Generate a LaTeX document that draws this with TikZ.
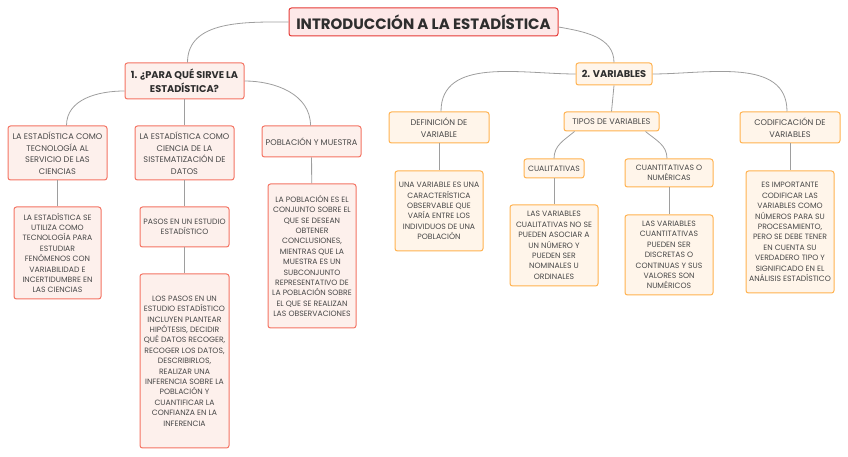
\documentclass[tikz,border=0pt]{standalone}
\usepackage{fontspec}
\setmainfont{Poppins}
\definecolor{rootline}{HTML}{E53935}
\definecolor{rootfill}{HTML}{FDE8E8}
\definecolor{redline}{HTML}{F47362}
\definecolor{redfill}{HTML}{FDF0EC}
\definecolor{orline}{HTML}{FFB24F}
\definecolor{orfill}{HTML}{FFF5EA}
\definecolor{linkgray}{HTML}{9E9E9E}
\definecolor{ink}{HTML}{2E2E2E}
\definecolor{softink}{HTML}{484848}
\tikzset{
  box/.style={draw, rounded corners=2.5pt, line width=1pt, align=center, inner sep=0pt},
  rootbox/.style={box, draw=rootline, fill=rootfill, text=ink, font=\fontsize{15}{17}\selectfont\bfseries},
  redmain/.style={box, draw=redline, fill=redfill, text=ink, font=\fontsize{9.8}{14.3}\selectfont\bfseries},
  ormain/.style={box, draw=orline, fill=orfill, text=ink, font=\fontsize{9.8}{14.3}\selectfont\bfseries},
  redtopic/.style={box, draw=redline, fill=redfill, text=softink, font=\fontsize{8.2}{11.5}\selectfont},
  ortopic/.style={box, draw=orline, fill=orfill, text=softink, font=\fontsize{8.2}{11.5}\selectfont},
  redleaf/.style={box, draw=redline, fill=redfill, text=softink, font=\fontsize{7.7}{10.4}\selectfont},
  orleaf/.style={box, draw=orline, fill=orfill, text=softink, font=\fontsize{7.7}{10.4}\selectfont},
  link/.style={draw=linkgray, line width=0.8pt}
}
\begin{document}
\begin{tikzpicture}[x=1pt,y=1pt]
\useasboundingbox (0,0) rectangle (848,457);
% raiz
\node[rootbox, minimum width=269pt, minimum height=28pt] (root) at (423.5,435) {INTRODUCCIÓN A LA ESTADÍSTICA};
% ramas principales
\node[redmain, minimum width=119pt, minimum height=36pt] (sirve) at (184.5,376) {1. ¿PARA QUÉ SIRVE LA\\ESTADÍSTICA?};
\node[ormain, minimum width=76pt, minimum height=22pt] (vars) at (614,383) {2. VARIABLES};
% rama 1
\node[redtopic, minimum width=99pt, minimum height=54pt] (tecno) at (57.5,304) {LA ESTADÍSTICA COMO\\TECNOLOGÍA AL\\SERVICIO DE LAS\\CIENCIAS};
\node[redtopic, minimum width=99pt, minimum height=54pt] (ciencia) at (184.5,304) {LA ESTADÍSTICA COMO\\CIENCIA DE LA\\SISTEMATIZACIÓN DE\\DATOS};
\node[redtopic, minimum width=99pt, minimum height=31pt] (pobla) at (311.5,315.5) {POBLACIÓN Y MUESTRA};
\node[redleaf, minimum width=87pt, minimum height=92pt] (tecnotxt) at (57.5,204) {LA ESTADÍSTICA SE\\UTILIZA COMO\\TECNOLOGÍA PARA\\ESTUDIAR\\FENÓMENOS CON\\VARIABILIDAD E\\INCERTIDUMBRE EN\\LAS CIENCIAS};
\node[redleaf, minimum width=89pt, minimum height=40pt] (pasos) at (184.5,230) {PASOS EN UN ESTUDIO\\ESTADÍSTICO};
\node[redleaf, minimum width=89pt, minimum height=174pt] (pasostxt) at (184.5,96) {LOS PASOS EN UN\\ESTUDIO ESTADÍSTICO\\INCLUYEN PLANTEAR\\HIPÓTESIS, DECIDIR\\QUÉ DATOS RECOGER,\\RECOGER LOS DATOS,\\DESCRIBIRLOS,\\REALIZAR UNA\\INFERENCIA SOBRE LA\\POBLACIÓN Y\\CUANTIFICAR LA\\CONFIANZA EN LA\\INFERENCIA};
\node[redleaf, minimum width=88pt, minimum height=144pt] (poblatxt) at (312,201) {LA POBLACIÓN ES EL\\CONJUNTO SOBRE EL\\QUE SE DESEAN\\OBTENER\\CONCLUSIONES,\\MIENTRAS QUE LA\\MUESTRA ES UN\\SUBCONJUNTO\\REPRESENTATIVO DE\\LA POBLACIÓN SOBRE\\EL QUE SE REALIZAN\\LAS OBSERVACIONES};
% rama 2
\node[ortopic, minimum width=100pt, minimum height=31pt] (defi) at (439,329.5) {DEFINICIÓN DE\\VARIABLE};
\node[ortopic, minimum width=95pt, minimum height=19pt] (tipos) at (611.5,335.5) {TIPOS DE VARIABLES};
\node[ortopic, minimum width=100pt, minimum height=31pt] (codi) at (790,329.5) {CODIFICACIÓN DE\\VARIABLES};
\node[orleaf, minimum width=60pt, minimum height=19pt] (cuali) at (554,288.5) {CUALITATIVAS};
\node[orleaf, minimum width=88pt, minimum height=28pt] (cuanti) at (669,284) {CUANTITATIVAS O\\NUMÉRICAS};
\node[orleaf, minimum width=88pt, minimum height=80pt] (defitxt) at (439,246) {UNA VARIABLE ES UNA\\CARACTERÍSTICA\\OBSERVABLE QUE\\VARÍA ENTRE LOS\\INDIVIDUOS DE UNA\\POBLACIÓN};
\node[orleaf, minimum width=88pt, minimum height=81pt] (cualitxt) at (554,211.5) {LAS VARIABLES\\CUALITATIVAS NO SE\\PUEDEN ASOCIAR A\\UN NÚMERO Y\\PUEDEN SER\\NOMINALES U\\ORDINALES};
\node[orleaf, minimum width=88pt, minimum height=80pt] (cuantitxt) at (669,202) {LAS VARIABLES\\CUANTITATIVAS\\PUEDEN SER\\DISCRETAS O\\CONTINUAS Y SUS\\VALORES SON\\NUMÉRICOS};
\node[orleaf, minimum width=88pt, minimum height=122pt] (coditxt) at (790,225) {ES IMPORTANTE\\CODIFICAR LAS\\VARIABLES COMO\\NÚMEROS PARA SU\\PROCESAMIENTO,\\PERO SE DEBE TENER\\EN CUENTA SU\\VERDADERO TIPO Y\\SIGNIFICADO EN EL\\ANÁLISIS ESTADÍSTICO};
% conexiones
\draw[link] (root.west) to[out=180,in=90] ([xshift=3pt]sirve.north);
\draw[link] ([yshift=-5pt]root.east) to[out=-10,in=90] (vars.north);
\draw[link] ([yshift=-10pt]sirve.west) to[out=180,in=90] ([xshift=9pt]tecno.north);
\draw[link] (sirve.south) -- (ciencia.north);
\draw[link] (sirve.east) to[out=0,in=90] ([xshift=-1pt]pobla.north);
\draw[link] (vars.west) to[out=180,in=90] ([xshift=2pt]defi.north);
\draw[link] (vars.south) -- (tipos.north);
\draw[link] (vars.east) to[out=0,in=90] ([xshift=-3pt]codi.north);
\draw[link] ([xshift=-37pt]tipos.south) to[out=220,in=90] (cuali.north);
\draw[link] ([xshift=34pt]tipos.south) to[out=-40,in=90] ([xshift=-2pt]cuanti.north);
\draw[link] (tecno) -- (tecnotxt);
\draw[link] (ciencia) -- (pasos);
\draw[link] (pasos) -- (pasostxt);
\draw[link] (pobla) -- (poblatxt);
\draw[link] (defi) -- (defitxt);
\draw[link] (cuali) -- (cualitxt);
\draw[link] (cuanti) -- (cuantitxt);
\draw[link] (codi) -- (coditxt);
\end{tikzpicture}
\end{document}
